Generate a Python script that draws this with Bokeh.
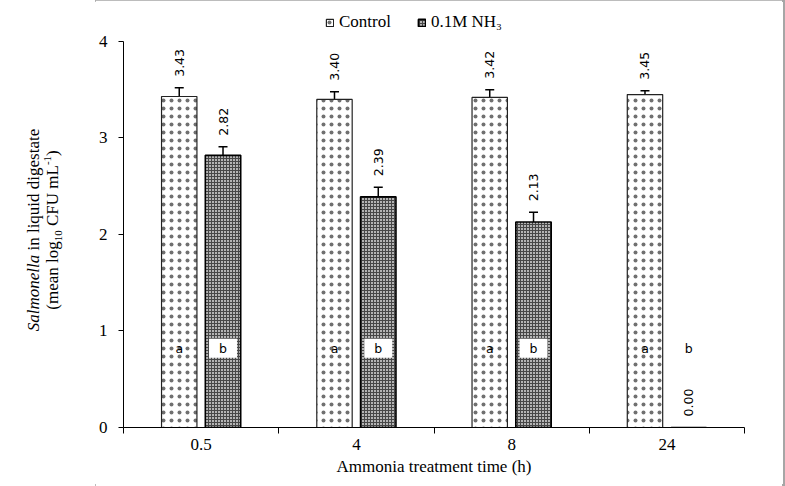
import math
from bokeh.plotting import figure
from bokeh.layouts import row
from bokeh.models import (ColumnDataSource, Range1d, FixedTicker, Whisker, TeeHead,
                          Legend, LegendItem, Div)
from bokeh.core.properties import value
from bokeh.embed import file_html
from bokeh.resources import INLINE

# ---- data ----
times = ["0.5", "4", "8", "24"]
control = [3.43, 3.40, 3.42, 3.45]
control_err = [0.09, 0.08, 0.08, 0.04]
nh3 = [2.82, 2.39, 2.13, 0.00]
nh3_err = [0.09, 0.10, 0.10, 0.00]
control_letters = ["a", "a", "a", "a"]
nh3_letters = ["b", "b", "b", "b"]
series_names = ["Control", "0.1M NH\u2083"]
y_ticks = [0, 1, 2, 3, 4]
x_title = "Ammonia treatment time (h)"
y_title_html = ("<i>Salmonella</i> in liquid digestate<br>"
                "(mean log<sub>10</sub> CFU mL<sup>-1</sup>)")

SERIF = "Liberation Serif"
SANS = "DejaVu Sans"

n = len(times)
centers = [i + 0.5 for i in range(n)]
off = 0.141
bw = 0.228
letter_y = 0.82
y_axis_max = y_ticks[-1]
y_headroom = 0.404   # room above the axis for the legend

ctrl_src = ColumnDataSource(dict(
    x=[c - off for c in centers], top=control,
    upper=[v + e for v, e in zip(control, control_err)],
    lower=[v - e for v, e in zip(control, control_err)],
    lab=["%.2f" % v for v in control], letter=control_letters,
    ly=[letter_y] * n))
nh3_src = ColumnDataSource(dict(
    x=[c + off for c in centers], top=nh3,
    upper=[v + e for v, e in zip(nh3, nh3_err)],
    lower=[v - e for v, e in zip(nh3, nh3_err)],
    lab=["%.2f" % v for v in nh3], letter=nh3_letters,
    ly=[letter_y] * n))
nz = [i for i, e in enumerate(nh3_err) if e > 0]
nh3_whisk_src = ColumnDataSource(dict(
    x=[nh3_src.data["x"][i] for i in nz],
    upper=[nh3_src.data["upper"][i] for i in nz],
    lower=[nh3_src.data["lower"][i] for i in nz]))

W, H = 785, 486
TITLE_W = 95
GAP = 3
p = figure(width=W - TITLE_W - GAP, height=H, output_backend="svg", toolbar_location=None,
           x_range=Range1d(0, n), y_range=Range1d(0, y_axis_max + y_headroom),
           min_border_left=25, min_border_right=38,
           min_border_top=2, min_border_bottom=59)
p.outline_line_color = None
p.xgrid.visible = False
p.ygrid.visible = False
p.background_fill_color = "white"
p.border_fill_color = "white"

r_ctrl = p.vbar(x="x", top="top", width=bw, bottom=0, source=ctrl_src,
                fill_color="white", line_color="#222222", line_width=1.2,
                hatch_pattern="dot", hatch_scale=8, hatch_color="#707070",
                hatch_weight=0.4)
r_nh3 = p.vbar(x="x", top="top", width=bw, bottom=0, source=nh3_src,
               fill_color="#b4b4b4", line_color="black", line_width=1.6,
               hatch_pattern="cross", hatch_scale=3, hatch_color="#474747",
               hatch_weight=1)

for src in (ctrl_src, nh3_whisk_src):
    p.add_layout(Whisker(source=src, base="x", upper="upper", lower="lower",
                         line_color="black", line_width=1.5,
                         upper_head=TeeHead(size=9, line_width=1.5, line_color="black"),
                         lower_head=TeeHead(size=9, line_width=1.5, line_color="black")))

# value labels
for src in (ctrl_src, nh3_src):
    p.text(x="x", y="upper", text="lab", source=src, angle=math.pi / 2,
           text_align="left", text_baseline="middle", y_offset=-11,
           text_font=value(SANS), text_font_size="12.5px", text_color="black")

# significance letters
p.text(x="x", y="ly", text="letter", source=ctrl_src, text_align="center",
       text_baseline="middle", text_font=value(SANS), text_font_size="12.5px",
       text_color="black")
p.text(x="x", y="ly", text="letter", source=nh3_src, text_align="center",
       text_baseline="middle", text_font=value(SANS), text_font_size="12.5px",
       text_color="black", background_fill_color="white", padding=(10, 2))

# axes
xa = p.xaxis[0]
xa.ticker = FixedTicker(ticks=centers, minor_ticks=list(range(n + 1)))
xa.major_label_overrides = {c: t for c, t in zip(centers, times)}
xa.major_tick_line_color = None
xa.major_tick_out = 6
xa.minor_tick_in = 0
xa.minor_tick_out = 6
xa.minor_tick_line_color = "black"
xa.axis_line_color = "black"
xa.major_label_standoff = 5
xa.major_label_text_font = SERIF
xa.major_label_text_font_size = "17px"
xa.major_label_text_color = "black"
xa.axis_label = x_title
xa.axis_label_standoff = 4
xa.axis_label_text_font = SERIF
xa.axis_label_text_font_size = "17px"
xa.axis_label_text_font_style = "normal"
xa.axis_label_text_color = "black"

ya = p.yaxis[0]
ya.ticker = FixedTicker(ticks=y_ticks, minor_ticks=[])
ya.bounds = (0, y_axis_max)
ya.major_tick_in = 0
ya.major_tick_out = 5
ya.major_tick_line_color = "black"
ya.axis_line_color = "black"
ya.major_label_standoff = 11
ya.major_label_text_font = SERIF
ya.major_label_text_font_size = "17px"
ya.major_label_text_color = "black"

legend = Legend(items=[LegendItem(label=series_names[0], renderers=[r_ctrl]),
                       LegendItem(label=series_names[1], renderers=[r_nh3])],
                orientation="horizontal", location=(202, 395),
                glyph_width=9, glyph_height=9, label_standoff=5, spacing=26,
                padding=0, margin=0, border_line_color=None,
                background_fill_alpha=0, label_text_font=SERIF,
                label_text_font_size="17px", label_text_color="black")
p.add_layout(legend, "center")

# rotated two-line y-axis title (HTML so that italics / sub / sup stay real text)
cx, cy, bwid, bht = 42.5, 230, 260, 38
inner = (y_title_html
         .replace("<sub>", '<sub style="font-size:11px;line-height:0;">')
         .replace("<sup>", '<sup style="font-size:11px;line-height:0;">'))
y_title = Div(
    text=('<div style="position:relative;width:%dpx;height:%dpx;overflow:visible;">'
          '<div style="position:absolute;left:%.1fpx;top:%.1fpx;width:%dpx;height:%dpx;'
          'transform:rotate(-90deg);text-align:center;white-space:nowrap;'
          'font-family:\'Liberation Serif\';font-size:17px;line-height:19px;color:black;">'
          '%s</div></div>') % (TITLE_W, H, cx - bwid / 2, cy - bht / 2, bwid, bht, inner),
    width=TITLE_W, height=H, margin=0,
    styles={"background-color": "white", "overflow": "visible"})

layout = row(y_title, p, spacing=0, width=W, height=H)
layout.styles = {"outline": "2px solid #a6a6a6", "outline-offset": "-2px"}

open("out.html", "w").write(file_html(layout, INLINE))
